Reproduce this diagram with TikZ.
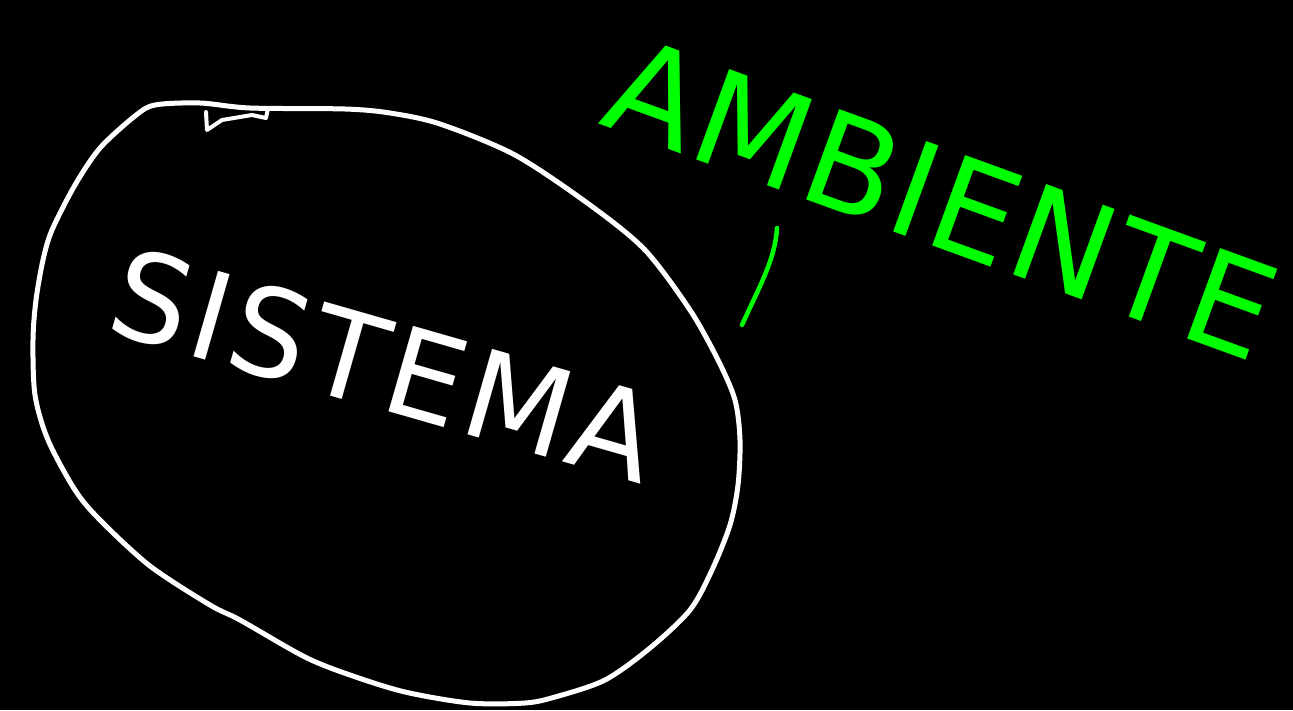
\documentclass[tikz,border=0pt]{standalone}
\usepackage{fontspec}
\setmainfont{DejaVu Sans}
\begin{document}
\begin{tikzpicture}[x=1pt,y=-1pt,
  stroke/.style={line width=5pt,line cap=round,line join=round},
  word/.style={inner sep=0pt,font=\fontsize{#1}{#1}\selectfont}]
\useasboundingbox[fill=black] (0,0) rectangle (1293,710);
% system boundary
\draw[stroke,white] plot[smooth cycle,tension=0.5] coordinates{
 (155,105) (200,103) (250,108) (345,109) (390,113) (440,124) (515,155)
 (590,205) (645,250) (690,310) (718,360) (735,400) (740,440) (738,485)
 (730,525) (712,570) (690,610) (650,648) (605,680) (555,697) (525,703)
 (470,703) (405,692) (350,675) (305,657) (240,620) (210,605) (150,566)
 (100,520) (75,490) (48,440) (35,395) (33,340) (36,300) (43,260)
 (52,230) (75,185) (100,148) (135,116)};
\draw[stroke,white,line width=4pt] (206,112) -- (207,130) -- (222,120) -- (252,115) -- (266,118) -- (268,108);
% labels
\node[word=122,text=white,rotate=-16] (sis) at (385,365) {\addfontfeature{LetterSpace=4}SISTEMA};
\node[word=132,text=green,rotate=-20] (amb) at (942,198) {\addfontfeature{LetterSpace=2}AMBIENTE};
% tick between system and environment
\coordinate (t1) at (742,325);
\coordinate (t2) at (777,228);
\draw[stroke,green,line width=4.5pt] (t1) .. controls (760,285) and (775,260) .. (t2);
\end{tikzpicture}
\end{document}
